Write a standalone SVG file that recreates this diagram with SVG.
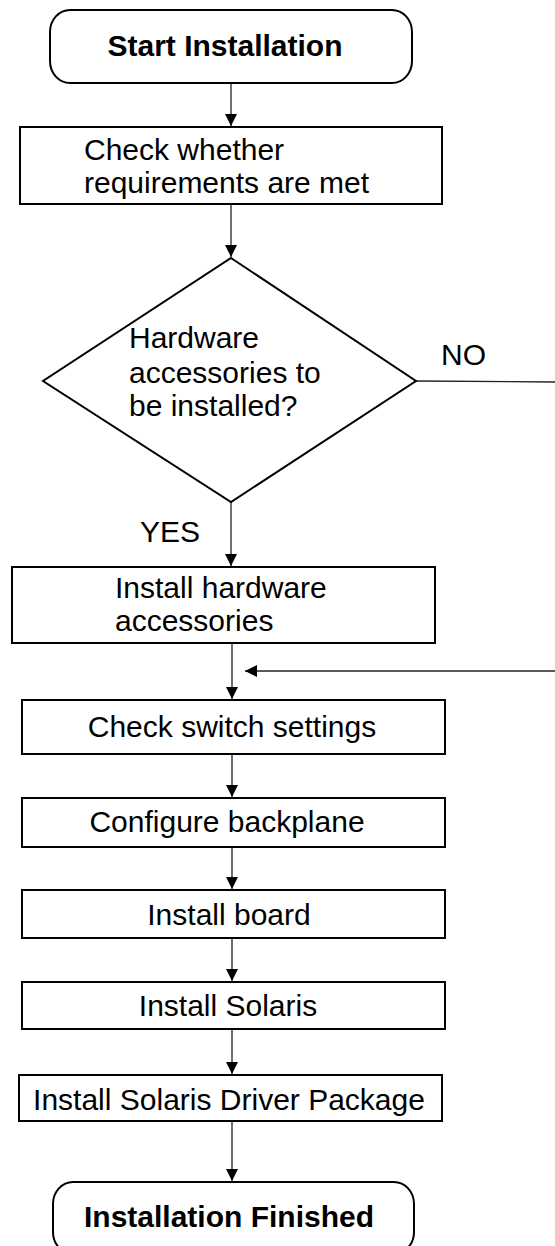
<svg xmlns="http://www.w3.org/2000/svg" width="555" height="1246" viewBox="0 0 555 1246">
<defs>
<marker id="arr" markerUnits="userSpaceOnUse" markerWidth="12" markerHeight="12" refX="12" refY="6" orient="auto">
<path d="M0,0 L12,6 L0,12 z" fill="#000"/>
</marker>
<style>
.box{fill:#fff;stroke:#000;stroke-width:2}
.t{font-family:"Liberation Sans",Arial,sans-serif;font-size:30px;fill:#000}
.b{font-weight:bold}
.c{text-anchor:middle}
.ln{stroke:#222;stroke-width:1.3;fill:none}
</style>
</defs>
<rect width="555" height="1246" fill="#fff"/>
<g id="connectors">
<line class="ln" x1="231" y1="84" x2="231" y2="126" marker-end="url(#arr)"/>
<line class="ln" x1="231" y1="205" x2="231" y2="257" marker-end="url(#arr)"/>
<line class="ln" x1="231" y1="502" x2="231" y2="566" marker-end="url(#arr)"/>
<line class="ln" x1="232" y1="643" x2="232" y2="699" marker-end="url(#arr)"/>
<line class="ln" x1="555" y1="671" x2="245" y2="671" marker-end="url(#arr)"/>
<line class="ln" x1="232" y1="754" x2="232" y2="797" marker-end="url(#arr)"/>
<line class="ln" x1="232" y1="847" x2="232" y2="889" marker-end="url(#arr)"/>
<line class="ln" x1="232" y1="938" x2="232" y2="981" marker-end="url(#arr)"/>
<line class="ln" x1="232" y1="1029" x2="232" y2="1074" marker-end="url(#arr)"/>
<line class="ln" x1="232" y1="1121" x2="232" y2="1181" marker-end="url(#arr)"/>
<line class="ln" x1="416" y1="381" x2="555" y2="382"/>
</g>
<g id="start">
<rect class="box" x="50" y="10" width="362" height="73" rx="20" ry="22"/>
<text class="t b c" x="225" y="56">Start Installation</text>
</g>
<g id="check-req">
<rect class="box" x="20" y="127" width="422" height="77"/>
<text class="t" x="84" y="160">Check whether</text>
<text class="t" x="84" y="193">requirements are met</text>
</g>
<g id="decision">
<polygon class="box" points="231,258 416,381 231,502 43,381"/>
<text class="t" x="129" y="348">Hardware</text>
<text class="t" x="129" y="383">accessories to</text>
<text class="t" x="129" y="416">be installed?</text>
</g>
<g id="label-no"><text class="t" x="441" y="365">NO</text></g>
<g id="label-yes"><text class="t" x="140" y="542">YES</text></g>
<g id="install-hw">
<rect class="box" x="12" y="567" width="423" height="76"/>
<text class="t" x="115" y="598">Install hardware</text>
<text class="t" x="115" y="631">accessories</text>
</g>
<g id="check-switch">
<rect class="box" x="22" y="700" width="423" height="54"/>
<text class="t c" x="232" y="737">Check switch settings</text>
</g>
<g id="config-backplane">
<rect class="box" x="22" y="798" width="423" height="49"/>
<text class="t c" x="227" y="832">Configure backplane</text>
</g>
<g id="install-board">
<rect class="box" x="22" y="890" width="423" height="48"/>
<text class="t c" x="229" y="925">Install board</text>
</g>
<g id="install-solaris">
<rect class="box" x="22" y="982" width="423" height="47"/>
<text class="t c" x="228" y="1016">Install Solaris</text>
</g>
<g id="install-driver">
<rect class="box" x="19" y="1075" width="423" height="46"/>
<text class="t c" x="229" y="1110">Install Solaris Driver Package</text>
</g>
<g id="finished">
<rect class="box" x="53" y="1182" width="361" height="72" rx="20" ry="22"/>
<text class="t b c" x="229" y="1227">Installation Finished</text>
</g>
</svg>
